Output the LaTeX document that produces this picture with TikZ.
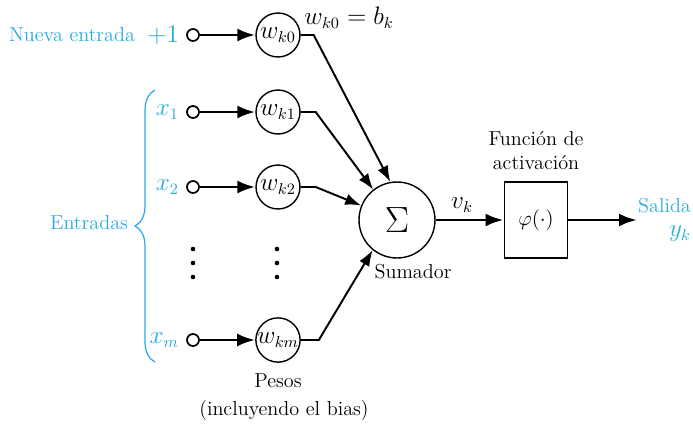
\documentclass[tikz,border=0pt]{standalone}
\usepackage{tikz}
\usetikzlibrary{arrows.meta,positioning,decorations.pathreplacing}
\definecolor{inputcyan}{RGB}{41,171,226}

\begin{document}
\begin{tikzpicture}[x=0.02cm,y=-0.02cm,
  font=\fontsize{11.5}{14}\selectfont,
  terminal/.style={draw,circle,inner sep=0pt,minimum size=0.24cm,line width=1pt,fill=white},
  weight/.style={draw,circle,inner sep=0pt,minimum size=0.88cm,line width=0.8pt,font=\fontsize{13.5}{15}\selectfont},
  sumnode/.style={draw,circle,inner sep=0pt,minimum size=1.52cm,line width=0.8pt,font=\fontsize{20}{22}\selectfont},
  actbox/.style={draw,rectangle,inner sep=0pt,minimum width=1.26cm,minimum height=1.52cm,line width=1.1pt,font=\fontsize{13}{15}\selectfont},
  inarrow/.style={-{Latex[length=3.6mm,width=2.6mm]},line width=1.7pt},
  sumarrow/.style={-{Latex[length=3.2mm,width=2.3mm]},line width=1.1pt},
  outarrow/.style={-{Latex[length=3.6mm,width=2.6mm]},line width=1.7pt},
  label/.style={inputcyan},
  mathlabel/.style={font=\fontsize{13.5}{15}\selectfont}
]
\useasboundingbox (0,0) rectangle (693,423);
% inputs
\node[terminal] (in0) at (193,35) {};
\node[terminal] (in1) at (193,112) {};
\node[terminal] (in2) at (193,187) {};
\node[terminal] (inm) at (193,340) {};
\node[label,mathlabel,left=0.02cm of in0] (plusone) {$+1$};
\node[label] (nueva) at (72,35) {Nueva entrada};
\node[label,mathlabel,left=0.02cm of in1] (x1) {$x_1$};
\node[label,mathlabel,left=0.02cm of in2] (x2) {$x_2$};
\node[label,mathlabel,left=0.02cm of inm] (xm) {$x_m$};
\draw[inputcyan,line width=0.7pt,decorate,decoration={brace,amplitude=0.4cm}] (155,362) -- (155,90);
\node[label] (entradas) at (89,223) {Entradas};
% weights
\node[weight] (wk0) at (278,35) {$w_{k0}$};
\node[weight] (wk1) at (278,112) {$w_{k1}$};
\node[weight] (wk2) at (278,187) {$w_{k2}$};
\node[weight] (wkm) at (278,340) {$w_{km}$};
\node[mathlabel] (bias) at (349,18) {$w_{k0}=b_k$};
\node[below=0.1cm of wkm] (pesos) {Pesos};
\node (incl) at (284,410) {(incluyendo el bias)};
\foreach \y in {249,263,277}{
  \fill (193,\y) circle (2.3);
  \fill (277,\y) circle (2.3);
}
% summing junction and activation
\node[sumnode] (sum) at (397,220) {$\Sigma$};
\node (sumador) at (413,272) {Sumador};
\node[actbox] (act) at (536,220) {$\varphi(\cdot)$};
\node[above=0.1cm of act,align=center] (func) {Función de\\activación};
\coordinate (out) at (637,220);
\node[label,align=right,anchor=east,inner sep=1pt] (salida) at (693,220) {Salida\\\fontsize{13.5}{15}\selectfont$y_k$};
\node[mathlabel] (vk) at (462,205) {$v_k$};
% connectors
\draw[inarrow] (in0) -- (wk0);
\draw[inarrow] (in1) -- (wk1);
\draw[inarrow] (in2) -- (wk2);
\draw[inarrow] (inm) -- (wkm);
\draw[sumarrow] (wk0.east) -- ++(13,0) -- (sum.100);
\draw[sumarrow] (wk1.east) -- ++(15,0) -- (sum.128);
\draw[sumarrow] (wk2.east) -- ++(15,0) -- (sum.158);
\draw[sumarrow] (wkm.east) -- ++(18,0) -- (sum.231);
\draw[outarrow] (sum) -- (act);
\draw[outarrow] (act) -- (out);
\end{tikzpicture}
\end{document}
